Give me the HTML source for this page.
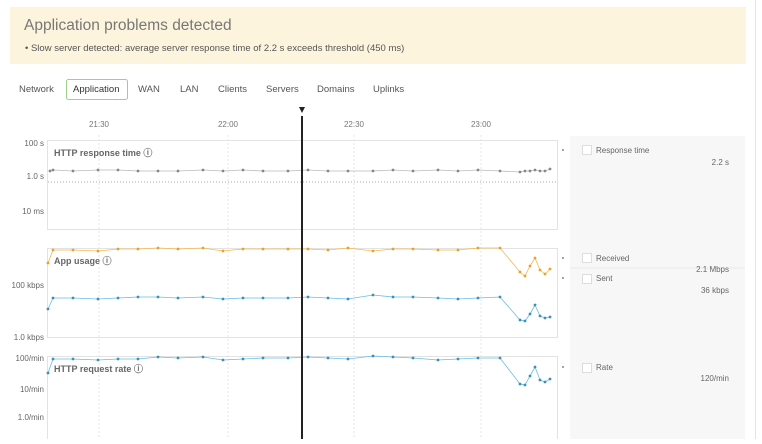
<!DOCTYPE html>
<html><head><meta charset="utf-8"><style>
body{margin:0;width:762px;height:439px;overflow:hidden;background:#fff;font-family:"Liberation Sans",sans-serif;}
</style></head><body>
<svg width="762" height="439" xmlns="http://www.w3.org/2000/svg" font-family="Liberation Sans, sans-serif">
<defs>
<marker id="mg" markerWidth="4" markerHeight="4" refX="2" refY="2" markerUnits="userSpaceOnUse"><circle cx="2" cy="2" r="1.4" fill="#888"/></marker>
<marker id="mo" markerWidth="4" markerHeight="4" refX="2" refY="2" markerUnits="userSpaceOnUse"><circle cx="2" cy="2" r="1.4" fill="#e8a030"/></marker>
<marker id="mb" markerWidth="4" markerHeight="4" refX="2" refY="2" markerUnits="userSpaceOnUse"><circle cx="2" cy="2" r="1.4" fill="#3b8fb8"/></marker>
</defs>
<line x1="755.5" y1="0" x2="755.5" y2="439" stroke="#e4e4e4"/>
<rect x="10" y="7" width="736" height="57" fill="#fcf4dd"/>
<text x="24" y="30" font-size="15.5" fill="#777">Application problems detected</text>
<text x="25" y="51" font-size="9.5" fill="#555">•  Slow server detected: average server response time of 2.2 s exceeds threshold (450 ms)</text>
<g font-size="9.5" fill="#555">
<text x="19" y="92">Network</text>
<rect x="66.5" y="79.5" width="61" height="20" rx="2" fill="#fff" stroke="#9fcf8f"/>
<text x="73" y="92" fill="#333">Application</text>
<text x="138" y="92">WAN</text>
<text x="180" y="92">LAN</text>
<text x="218" y="92">Clients</text>
<text x="266" y="92">Servers</text>
<text x="317" y="92">Domains</text>
<text x="373" y="92">Uplinks</text>
</g>
<g font-size="8" fill="#777" text-anchor="middle">
<text x="99" y="127">21:30</text><text x="228" y="127">22:00</text><text x="354" y="127">22:30</text><text x="481" y="127">23:00</text>
</g>
<rect x="570" y="136" width="175" height="303" fill="#f7f7f7"/>
<g stroke="#e5e5e5" stroke-dasharray="2,2">
<line x1="99" y1="135" x2="99" y2="439"/><line x1="228" y1="135" x2="228" y2="439"/><line x1="354" y1="135" x2="354" y2="439"/><line x1="481" y1="135" x2="481" y2="439"/>
</g>
<g fill="none" stroke="#e3e3e3">
<rect x="47.5" y="140.5" width="510" height="89"/>
<rect x="47.5" y="248.5" width="510" height="89"/>
<rect x="47.5" y="356.5" width="510" height="90"/>
</g>
<g font-size="8" fill="#666" text-anchor="end">
<text x="44" y="146">100 s</text><text x="44" y="179">1.0 s</text><text x="44" y="214">10 ms</text>
<text x="44" y="288">100 kbps</text><text x="44" y="340">1.0 kbps</text>
<text x="44" y="361">100/min</text><text x="44" y="392">10/min</text><text x="44" y="420">1.0/min</text>
</g>
<g font-size="9" font-weight="bold" fill="#666">
<text x="54" y="156">HTTP response time ⓘ</text>
<text x="54" y="264">App usage ⓘ</text>
<text x="54" y="372">HTTP request rate ⓘ</text>
</g>
<line x1="48" y1="182" x2="557" y2="182" stroke="#aaa" stroke-dasharray="1,2"/>
<polyline fill="none" stroke="#bbb" stroke-width="0.8" marker-start="url(#mg)" marker-mid="url(#mg)" marker-end="url(#mg)" points="50,171 53,170 73,171 98,170 118,170 138,171 158,171 178,171 203,170 223,171 243,170 263,171 288,171 308,170 328,171 348,171 373,171 393,170 413,171 438,170 458,171 478,170 500,171 520,172 525,171 530,171 535,170 540,171 545,171 550,169"/>
<polyline fill="none" stroke="#f5b850" stroke-width="0.8" marker-start="url(#mo)" marker-mid="url(#mo)" marker-end="url(#mo)" points="48,263 53,250 73,250 98,251 118,249 138,249 158,248 178,249 203,248 223,251 243,249 263,249 288,249 308,249 328,250 348,248 373,251 393,249 413,249 438,250 458,250 478,248 500,248 520,272 525,276 530,266 535,258 540,270 545,274 550,269"/>
<polyline fill="none" stroke="#6bbde3" stroke-width="0.8" marker-start="url(#mb)" marker-mid="url(#mb)" marker-end="url(#mb)" points="48,309 53,298 73,298 98,299 118,298 138,297 158,297 178,298 203,297 223,299 243,298 263,298 288,298 308,297 328,298 348,299 373,295 393,297 413,297 438,298 458,299 478,298 500,297 520,320 525,321 530,314 535,305 540,316 545,318 550,317"/>
<polyline fill="none" stroke="#6bbde3" stroke-width="0.8" marker-start="url(#mb)" marker-mid="url(#mb)" marker-end="url(#mb)" points="48,373 53,359 73,359 98,360 118,359 138,359 158,357 178,358 203,357 223,360 243,359 263,358 288,358 308,357 328,358 348,359 373,356 393,357 413,358 438,360 458,359 478,358 500,358 520,384 525,385 530,376 535,367 540,380 545,382 550,379"/>
<line x1="302" y1="116" x2="302" y2="439" stroke="#222" stroke-width="2"/>
<path d="M299,107 L305,107 L302,113 Z" fill="#222"/>
<g fill="#888"><circle cx="563" cy="150" r="1"/><circle cx="563" cy="258" r="1"/><circle cx="563" cy="278" r="1"/><circle cx="563" cy="367" r="1"/></g>
<g fill="#fff" stroke="#ddd"><rect x="582.5" y="145.5" width="9" height="9"/><rect x="582.5" y="253.5" width="9" height="9"/><rect x="582.5" y="274.5" width="9" height="9"/><rect x="582.5" y="363.5" width="9" height="9"/></g>
<line x1="570" y1="268" x2="745" y2="268" stroke="#e8e8e8"/>
<g font-size="8" fill="#666">
<text x="596" y="153">Response time</text><text x="596" y="261">Received</text><text x="596" y="281">Sent</text><text x="596" y="370">Rate</text>
</g>
<g font-size="8" fill="#666" text-anchor="end">
<text x="729" y="165">2.2 s</text><text x="729" y="272">2.1 Mbps</text><text x="729" y="293">36 kbps</text><text x="729" y="381">120/min</text>
</g>
</svg>
</body></html>
